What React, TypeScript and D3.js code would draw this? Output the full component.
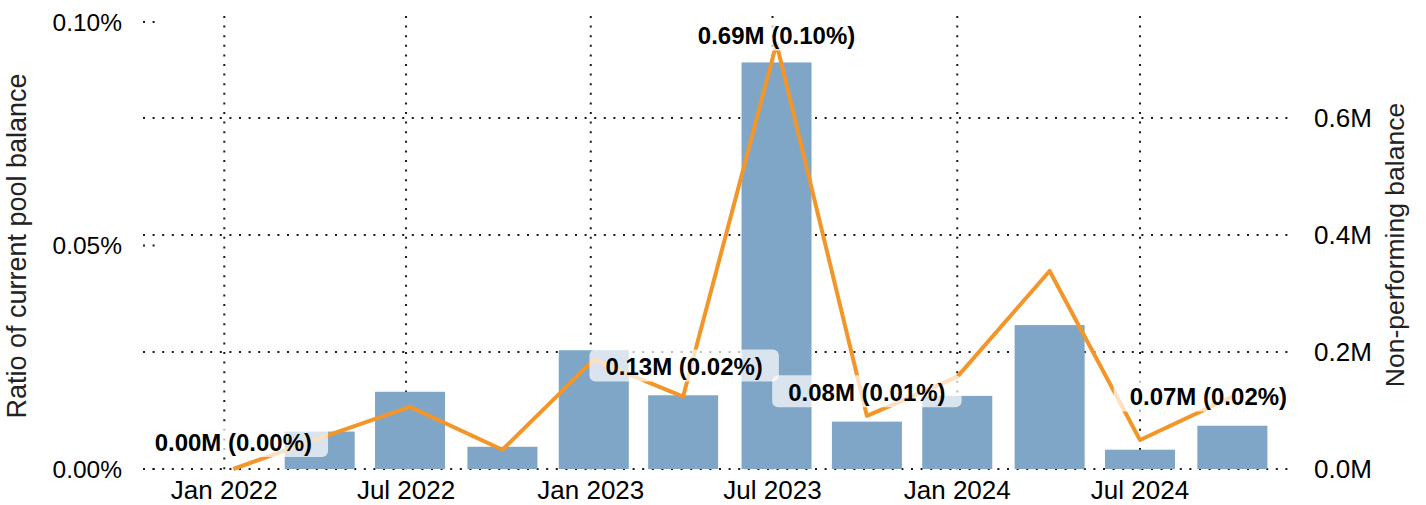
import React from 'react';
import * as d3 from 'd3';

// ---- data ----
const dates = ['2022-01-10', '2022-04-06', '2022-07-05', '2022-10-05', '2023-01-04', '2023-04-03', '2023-07-05', '2023-10-03', '2024-01-01', '2024-04-02', '2024-07-01', '2024-10-01'];
const balanceM = [0, 0.064, 0.132, 0.038, 0.203, 0.126, 0.695, 0.081, 0.125, 0.246, 0.033, 0.074];
const ratioPct = [0, 0.0069, 0.0139, 0.0043, 0.0244, 0.0162, 0.0952, 0.0119, 0.0206, 0.0443, 0.0065, 0.0162];
const labeledIdx = [0, 5, 6, 7, 11];
const leftTicks = [0, 0.05, 0.1];
const rightTicks = [0, 0.2, 0.4, 0.6];
const xTickDates = ['2022-01-01', '2022-07-01', '2023-01-01', '2023-07-01', '2024-01-01', '2024-07-01'];

// ---- layout ----
const W = 1426, H = 505;
const FONT = '"Liberation Sans", Arial, Helvetica, sans-serif';
const labelNudge: Record<number, [number, number]> = {
  0: [0, -27],
  5: [1, -30],
  6: [0, -8],
  7: [0, -23.5],
  11: [-24, 0],
};

const parse = (s: string) => new Date(s + 'T00:00:00Z');

function measure(text: string, font: string): number {
  const c = document.createElement('canvas');
  const ctx = c.getContext('2d')!;
  ctx.font = font;
  return ctx.measureText(text).width;
}

export default function App() {
  const x = d3.scaleUtc().domain([parse('2022-01-01'), parse('2024-07-01')]).range([224.3, 1140]);
  const yL = d3.scaleLinear().domain([0, 0.1]).range([469, 22]);
  const yR = d3.scaleLinear().domain([0, 0.6]).range([469, 118]);
  const barW = 70;
  const gridX0 = 143, gridX1 = 1295;
  const dot = { stroke: '#1a1a1a', strokeWidth: 2, strokeDasharray: '2 7.6' };

  const pts = dates.map((d, i) => [x(parse(d)), yL(ratioPct[i])] as [number, number]);
  const line = d3.line()(pts) || '';

  const labFont = `bold 24px ${FONT}`;
  const fmtX = d3.utcFormat('%b %Y');

  return (
    <div style={{ position: 'absolute', left: 0, top: 0 }}>
      <svg width={W} height={H} style={{ display: 'block', fontFamily: FONT }}>
        <rect width={W} height={H} fill="#fff" />
        {/* vertical grid */}
        {xTickDates.map(d => (
          <line key={d} x1={x(parse(d))} x2={x(parse(d))} y1={16} y2={471} {...dot} />
        ))}
        {/* horizontal grid from right axis */}
        {rightTicks.map(t => (
          <line key={t} x1={gridX0} x2={gridX1} y1={yR(t)} y2={yR(t)} {...dot} />
        ))}
        {/* left axis short ticks */}
        {leftTicks.map(t => (
          <line key={t} x1={gridX0} x2={gridX0 + 12} y1={yL(t)} y2={yL(t)} {...dot} />
        ))}
        {/* bars */}
        {dates.map((d, i) => (
          <rect key={d} x={x(parse(d)) - barW / 2} width={barW} y={yR(balanceM[i])} height={yR(0) - yR(balanceM[i])} fill="#7fa5c7" />
        ))}
        {/* line */}
        <path d={line} fill="none" stroke="#f3962a" strokeWidth={4} strokeLinejoin="round" />
        {/* labels */}
        {labeledIdx.map(i => {
          const txt = `${balanceM[i].toFixed(2)}M (${ratioPct[i].toFixed(2)}%)`;
          const tw = measure(txt, labFont);
          const [dx, dy] = labelNudge[i];
          const cx = pts[i][0] + dx;
          const cy = pts[i][1] + dy;
          const bw = tw + 32, bh = 32;
          return (
            <g key={i}>
              <rect x={cx - bw / 2} y={cy - bh / 2 - 1} width={bw} height={bh} rx={6} fill="#fff" fillOpacity={0.7} />
              <text x={cx} y={cy + 8.6} textAnchor="middle" fontWeight="bold" fontSize={24} fill="#000">{txt}</text>
            </g>
          );
        })}
        {/* left axis labels */}
        {leftTicks.map(t => (
          <text key={t} x={122} y={yL(t) + 8.8} textAnchor="end" fontSize={24.5} fill="#000">{t.toFixed(2) + '%'}</text>
        ))}
        {/* right axis labels */}
        {rightTicks.map(t => (
          <text key={t} x={1314} y={yR(t) + 9.3} textAnchor="start" fontSize={26} fill="#000">{t.toFixed(1) + 'M'}</text>
        ))}
        {/* x axis labels */}
        {xTickDates.map(d => (
          <text key={d} x={x(parse(d))} y={499} textAnchor="middle" fontSize={26} fill="#000">{fmtX(parse(d))}</text>
        ))}
        {/* axis titles */}
        <text transform={`translate(26,246) rotate(-90)`} textAnchor="middle" fontSize={27} fill="#222">Ratio of current pool balance</text>
        <text transform={`translate(1404,245) rotate(-90)`} textAnchor="middle" fontSize={26.5} fill="#222">Non-performing balance</text>
      </svg>
    </div>
  );
}
